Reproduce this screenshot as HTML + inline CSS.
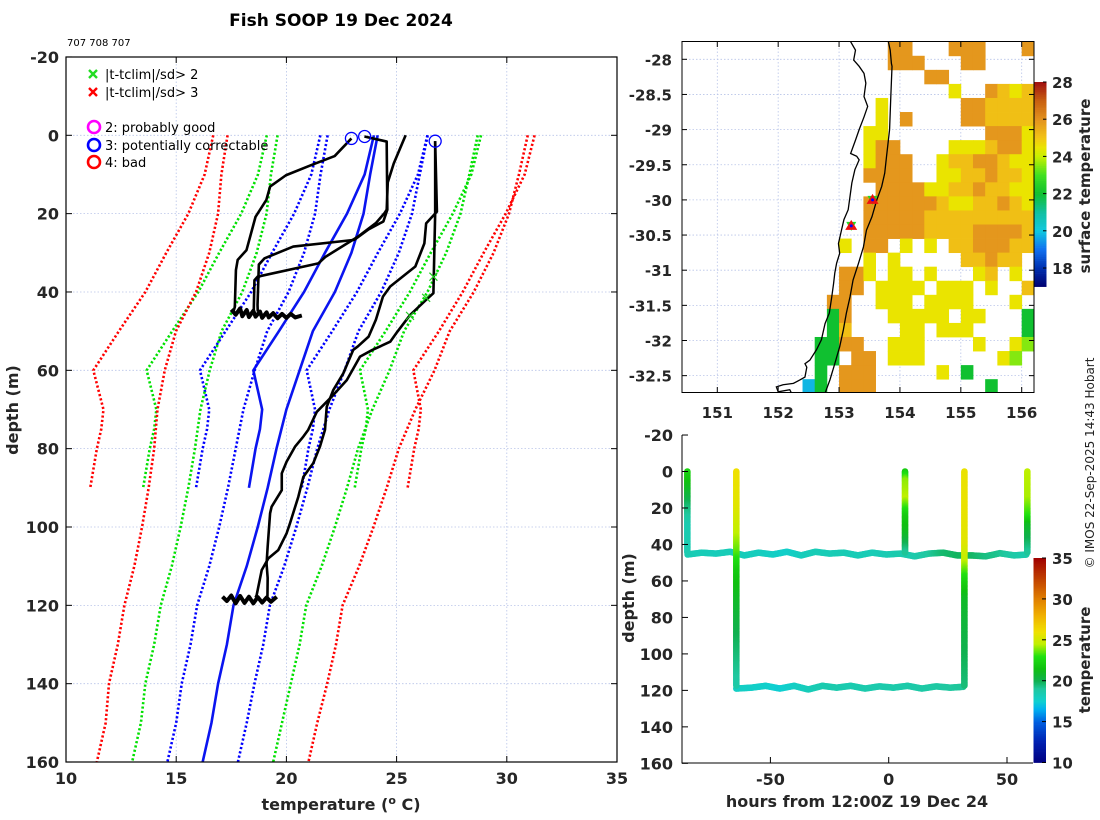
<!DOCTYPE html>
<html><head><meta charset="utf-8"><title>Fish SOOP 19 Dec 2024</title>
<style>
html,body{margin:0;padding:0;background:#fff;}
svg{display:block;font-family:"DejaVu Sans","Liberation Sans",sans-serif;}
.tk{font-size:16px;font-weight:bold;fill:#262626;}
.tk2{font-size:15px;font-weight:bold;fill:#262626;}
.lg{font-size:13px;fill:#000;}
</style></head>
<body>
<svg id="fig" width="1100" height="820" viewBox="0 0 1100 820" xmlns="http://www.w3.org/2000/svg">
<defs>
<clipPath id="cpMain"><rect x="66" y="57" width="551" height="705"/></clipPath>
<clipPath id="cpMap"><rect x="682" y="41.5" width="352" height="351"/></clipPath>
<clipPath id="cpBot"><rect x="682" y="435" width="351" height="328"/></clipPath>
</defs>
<text x="341" y="26" text-anchor="middle" font-size="17" font-weight="bold" fill="#000">Fish SOOP 19 Dec 2024</text>
<text x="67" y="46" font-size="10" fill="#000">707 708 707</text>
<g id="main"></g>
<g id="map"></g>
<g id="bot"></g>
<text transform="translate(1094,463) rotate(-90)" text-anchor="middle" font-size="12" fill="#222">© IMOS 22-Sep-2025 14:43 Hobart</text>
</svg>
<script>
// ---------- MAIN PROFILE CHART DATA ----------
const tTicks = [10,15,20,25,30,35];
const dTicks = [-20,0,20,40,60,80,100,120,140,160];
const climADepth = [0,10,20,30,40,50,60,70,75,80,90];
const climAMean  = [23.97,23.55,22.75,21.75,20.8,19.66,18.5,18.9,18.8,18.6,18.3];
const climASd    = [2.43,2.42,2.4,2.4,2.4,2.42,2.42,2.4,2.4,2.4,2.4];
const climBDepth = [0,10,20,30,40,50,60,70,80,90,100,110,120,130,140,150,160];
const climBMean  = [24.14,23.8,23.5,22.95,22.2,21.2,20.6,20.0,19.55,19.15,18.7,18.2,17.6,17.3,16.9,16.6,16.2];
const climBSd    = [2.27,2.25,2.2,2.15,2.1,2.07,2.04,1.95,1.85,1.8,1.75,1.7,1.65,1.65,1.65,1.6,1.6];
const prof1T = [22.95,22.19,21.13,19.98,19.26,19.09,18.6,18.19,17.79,17.71,17.66,17.6];
const prof1D = [0.8,5.3,7.6,10.2,13.1,16.5,20.8,29.3,31.8,34.4,43.8,45];
const prof2T = [23.54,24.55,24.58,24.4,23.73,23.08,20.31,19.01,18.75,18.69,18.7];
const prof2D = [0.3,1.6,19,22,24,26.7,28.4,31.4,33,43.3,45];
const prof3T = [25.41,24.87,24.6,24.55,24.46,24.06,23.24,21.78,21.45,18.69,18.55,18.52];
const prof3D = [0,7.2,12,19,19.8,22.4,25.9,31,32.7,36.1,37,44.6];
const prof4T = [26.75,26.83,26.34,26.26,25.85,24.71,24.38,24.06,23.73,23.24,23.03,22.58,22.13,21.83,21.75,21.52,21.22,20.77,20.54,20.16,20.01,19.63,19.18,18.88,18.65,18.6];
const prof4D = [1.5,19.5,22.5,27.6,33.5,38.6,41.2,47.1,51.4,53.9,54.8,60.8,65,69.3,75.2,79.5,83.7,87.2,92.3,99.1,101.6,105.9,108,111,117.4,118];
const prof5T = [26.75,26.75,26.67,26.34,25.61,25.04,24.71,23.9,23.34,22.74,22.06,21.38,20.99,20.77,20.39,20.01,19.79,19.79,19.33,19.26,19.15,19.1,19.15,19.14];
const prof5D = [1.5,20,40.3,42,45.9,50.1,52.7,54.8,56.5,62.5,66.7,70.6,75.2,76.9,79.5,83.3,86.3,90.6,94.8,96.5,105,109.4,113,117.8];
const blob45T = [17.5,17.7,17.9,18.0,18.2,18.3,18.5,18.6,18.8,18.9,19.1,19.2,19.4,19.6,19.8,20.0,20.2,20.4,20.7];
const blob45D = [44.5,45.8,44.2,46.2,44.6,46.4,44.8,46.3,45,46.6,45.2,46.5,45.4,46.7,45.6,46.6,45.6,46.5,46];
const blob118T = [17.1,17.3,17.5,17.7,17.9,18.1,18.3,18.5,18.7,18.9,19.1,19.3,19.56];
const blob118D = [117.8,118.9,117.5,119.5,117.6,119.4,117.8,119.5,117.9,119.3,118,119.1,117.8];
const flagT = [26.67,26.34,25.61];
const flagD = [36.1,41.5,46.1];
const circT = [22.95,23.55,26.75];
const circD = [0.8,0.3,1.5];

// ---------- MAP DATA ----------
const lonTicks = [151,152,153,154,155,156];
const latTicks = [-28,-28.5,-29,-29.5,-30,-30.5,-31,-31.5,-32,-32.5];
const sstLon0 = 150.4, sstLat0 = -27.75, sstStep = 0.2;
const sstCodes = {"2":19.8,"4":22,"5":23.5,"6":24.5,"7":25.1,"8":25.9};
const sstRows = [
"............." + "....88...888...8",
"............." + "....888...88....",
"............." + ".......88.......",
"............." + ".........6..8767",
"............." + "...6......887777",
"............." + "...6.8....887777",
"............." + "..66........8886",
"............." + "..688....6667886",
"............." + "..6888..67788766",
"............." + "..8888..66778776",
"............." + "...8888667787766",
"............." + "..88888876677876",
"............." + "..88888777777777",
"............." + "..88888777788887",
"............." + "6.88.6.6.7788877",
"............." + "..6.6.....77877.",
"............." + "886.66.6...67.6.",
"............." + "88.6666.666.6..7",
"............8" + "8..666.6666...6.",
"............4" + "8...66666.66...4",
"............4" + "7....66.666....4",
"...........44" + "88..666....6..65",
"...........44" + ".88.666......65.",
"...........4." + "888.....6.4.....",
"..........24." + "888.........4..."
];
const coastLon = [153.19,153.27,153.24,153.33,153.41,153.44,153.41,153.47,153.41,153.33,153.27,153.19,153.29,153.33,153.26,153.21,153.18,153.15,153.08,153.04,152.99,153.01,152.96,152.93,152.91,152.88,152.84,152.77,152.71,152.63,152.52,152.44,152.47,152.44,152.36,152.25,152.08,151.97,152.0,152.19,152.22];
const coastLat = [-27.75,-27.87,-28.01,-28.1,-28.2,-28.34,-28.53,-28.67,-28.82,-29.0,-29.15,-29.34,-29.38,-29.43,-29.57,-29.76,-29.95,-30.14,-30.28,-30.43,-30.62,-30.76,-30.9,-31.04,-31.19,-31.38,-31.61,-31.76,-31.99,-32.13,-32.28,-32.33,-32.38,-32.52,-32.56,-32.61,-32.63,-32.66,-32.73,-32.7,-32.75];
const isoLon = [153.81,153.84,153.86,153.87,153.85,153.83,153.78,153.75,153.7,153.62,153.54,153.45,153.4,153.32,153.23,153.18,153.12,153.07,153.01,152.93,152.85,152.77];
const isoLat = [-27.75,-27.87,-28.06,-28.1,-28.53,-29.0,-29.38,-29.62,-29.81,-30.0,-30.24,-30.43,-30.67,-30.9,-31.14,-31.38,-31.61,-31.85,-32.09,-32.33,-32.56,-32.75];
const stnLon = [153.55,153.2];
const stnLat = [-30.0,-30.37];
const sstCbTicks = [18,20,22,24,26,28];
const sstStops = [17,18,19,20,21,22,23,24,24.5,25,26,27,28];
const sstColors = ["#000070","#0030b0","#1070f0","#10c8e0","#10c0a0","#10c030","#40e020","#c8f000","#eae400","#f2c414","#e2921e","#c86010","#a01010"];

// ---------- BOTTOM DEPTH-TIME DATA ----------
const hTicks = [-50,0,50];
const bdTicks = [-20,0,20,40,60,80,100,120,140,160];
const dropHours = [-85.1,-64.4,6.9,32,58.6];
const dropDepths = [[0,10,20,30,45],[0,20,35,45,55,70,90,118],[0,5,15,25,35,45],[0,20,40,50,60,70,90,118],[0,15,25,30,45]];
const dropTemps = [[22.5,21,19.5,18.5,18.5],[26,25.5,24.5,23.5,22,21,20,18.8],[22,24,24.5,22,21,19],[25.8,25.8,25.5,24.5,22.5,21,20.3,19.5],[24.5,24.3,23,21,19]];
const line45Hours = [-85,-79,-73,-67,-61,-55,-49,-43,-37,-31,-25,-19,-13,-7,-1,5,11,17,23,29,35,41,47,53,58.6];
const line45Depth = [45.5,44.5,45,44,46,44.5,45.5,44,46,44,45,44.5,46,44.5,45.5,45,46.5,45,44.5,46,46,46.5,44.8,46,45.5];
const line45Temp  = [18.4,18.3,18.2,18.3,18.2,18.1,17.9,17.7,18.1,18.3,18.3,18.4,18.3,18.3,18.4,18.6,18.6,19.0,19.6,19.8,19.8,19.4,19.2,18.8,18.6];
const line118Hours = [-64.4,-58,-52,-46,-40,-34,-28,-22,-16,-10,-4,2,8,14,20,26,32];
const line118Depth = [119,118.5,117.5,119,117.5,119.5,117.5,118.5,117.5,119,117.8,118.5,117.5,119,117.8,118.5,118];
const line118Temp  = [17.9,17.8,17.7,17.4,17.8,18.2,18.5,18.6,18.5,18.6,18.6,18.7,18.7,18.8,18.9,19.0,19.1];
const tCbTicks = [10,15,20,25,30,35];
const tStops = [10,12.5,15,16.5,17.5,19,20,21.5,23,24.5,26,28,30,32.5,35];
const tColors = ["#000080","#0020b0","#0060e0","#00b0f0","#10d0d0","#20c8a0","#10b050","#10c010","#20e010","#c0f000","#f0e000","#f0b000","#e08000","#c04000","#a00000"];

// ---------- helpers ----------
const NS="http://www.w3.org/2000/svg";
function mk(parent, tag, attrs){const e=document.createElementNS(NS,tag);for(const k in attrs)e.setAttribute(k,attrs[k]);parent.appendChild(e);return e;}
function hex(c){return [parseInt(c.substr(1,2),16),parseInt(c.substr(3,2),16),parseInt(c.substr(5,2),16)];}
function cmap(v,stops,cols){if(v<=stops[0])return cols[0];if(v>=stops[stops.length-1])return cols[cols.length-1];
 for(let i=0;i<stops.length-1;i++){if(v<=stops[i+1]){const f=(v-stops[i])/(stops[i+1]-stops[i]);const a=hex(cols[i]),b=hex(cols[i+1]);
 return "rgb("+a.map((x,j)=>Math.round(x+(b[j]-x)*f)).join(",")+")";}}return cols[cols.length-1];}

// ---------- main chart ----------
const mx=t=>66+(t-10)*22.04, my=d=>135.3+(d)*3.917;
const M=document.getElementById('main');
const mg=mk(M,'g',{'clip-path':'url(#cpMain)'});
tTicks.forEach(t=>{const l=mk(mg,'line',{x1:mx(t),x2:mx(t),y1:57,y2:762,stroke:'#b8c4e8','stroke-width':0.8,'stroke-dasharray':'1.5 2'});
});
dTicks.forEach(d=>{const l=mk(mg,'line',{x1:66,x2:617,y1:my(d),y2:my(d),stroke:'#b8c4e8','stroke-width':0.8,'stroke-dasharray':'1.5 2'});
});
function poly(g,T,D,fx,fy,style){return mk(g,'polyline',Object.assign({points:T.map((t,i)=>fx(t)+','+fy(D[i])).join(' '),fill:'none'},style));}
const envStyles=[[3,'#ff0000'],[2,'#00e000'],[1,'#0000ff']];
[[climADepth,climAMean,climASd],[climBDepth,climBMean,climBSd]].forEach(([D,Mn,Sd],pi)=>{
 envStyles.forEach(([k,col])=>{[-1,1].forEach(s=>{
  const p=poly(mg,Mn.map((m,i)=>m+s*k*Sd[i]),D,mx,my,{stroke:col,'stroke-width':2.6,'stroke-dasharray':'2.2 2.2'});
  });});
 const p=poly(mg,Mn,D,mx,my,{stroke:'#0a14f0','stroke-width':2.6});
 
});
[[prof1T,prof1D],[prof2T,prof2D],[prof3T,prof3D],[prof4T,prof4D],[prof5T,prof5D]].forEach(([T,D])=>{
 const p=poly(mg,T,D,mx,my,{stroke:'#000','stroke-width':2.6,'stroke-linejoin':'round'});
 });
[[blob45T,blob45D],[blob118T,blob118D]].forEach(([T,D])=>{
 const p=poly(mg,T,D,mx,my,{stroke:'#000','stroke-width':4,'stroke-linejoin':'round'});
 });
flagT.forEach((t,i)=>{const x=mx(t),y=my(flagD[i]);
 const p=mk(mg,'path',{d:`M${x-4},${y-4}L${x+4},${y+4}M${x-4},${y+4}L${x+4},${y-4}`,stroke:'#22cc22','stroke-width':1.2});
 });
circT.forEach((t,i)=>{const c=mk(mg,'circle',{cx:mx(t),cy:my(circD[i]),r:6,fill:'none',stroke:'#0000ff','stroke-width':1.3});
 });
const box=mk(M,'rect',{x:66,y:57,width:551,height:705,fill:'none',stroke:'#000','stroke-width':1.2});

tTicks.forEach(t=>{mk(M,'line',{x1:mx(t),x2:mx(t),y1:762,y2:756,stroke:'#000'});mk(M,'line',{x1:mx(t),x2:mx(t),y1:57,y2:63,stroke:'#000'});
 const tx=mk(M,'text',{x:mx(t),y:784,'text-anchor':'middle',class:'tk'});tx.textContent=t;
 });
dTicks.forEach(d=>{mk(M,'line',{x1:66,x2:72,y1:my(d),y2:my(d),stroke:'#000'});mk(M,'line',{x1:611,x2:617,y1:my(d),y2:my(d),stroke:'#000'});
 const tx=mk(M,'text',{x:59,y:my(d)+6,'text-anchor':'end',class:'tk'});tx.textContent=d;
 });
const xt=mk(M,'text',{x:341,y:810,'text-anchor':'middle',class:'tk'});
xt.innerHTML='temperature (<tspan dy="-6" font-size="11">o</tspan><tspan dy="6"> C)</tspan>';

const yt=mk(M,'text',{transform:'translate(18,410) rotate(-90)','text-anchor':'middle',class:'tk'});yt.textContent='depth (m)';

const legX=[['#22dd22','|t-tclim|/sd> 2',74],['#ff0000','|t-tclim|/sd> 3',92]];
legX.forEach(([c,s,y])=>{const g=mk(M,'g',{});
 mk(g,'path',{d:`M89,${y-4}L97,${y+4}M89,${y+4}L97,${y-4}`,stroke:c,'stroke-width':2.4});
 const t=mk(g,'text',{x:105,y:y+5,class:'lg'});t.textContent=s;});
const legC=[['#ff00ff','2: probably good',127],['#0000ff','3: potentially correctable',145],['#ff0000','4: bad',162]];
legC.forEach(([c,s,y])=>{const g=mk(M,'g',{});
 mk(g,'circle',{cx:94,cy:y,r:6,fill:'none',stroke:c,'stroke-width':2.6});
 const t=mk(g,'text',{x:105,y:y+5,class:'lg'});t.textContent=s;});

// ---------- map ----------
const lx=l=>717.3+(l-151)*60.88, ly=la=>59.3+(-28-la)*70.3;
const MP=document.getElementById('map');
const mpg=mk(MP,'g',{'clip-path':'url(#cpMap)'});
lonTicks.forEach(l=>{const e=mk(mpg,'line',{x1:lx(l),x2:lx(l),y1:41,y2:393,stroke:'#b8c4e8','stroke-width':0.8,'stroke-dasharray':'1.5 2'});
 });
latTicks.forEach(l=>{const e=mk(mpg,'line',{x1:682,x2:1034,y1:ly(l),y2:ly(l),stroke:'#b8c4e8','stroke-width':0.8,'stroke-dasharray':'1.5 2'});
 });
sstRows.forEach((row,r)=>{for(let c=0;c<row.length;c++){const ch=row[c];if(!(ch in sstCodes))continue;
 const lo=sstLon0+c*sstStep, la=sstLat0-r*sstStep;
 const x0=lx(lo),x1=lx(lo+sstStep),y0=ly(la),y1=ly(la-sstStep);
 const e=mk(mpg,'rect',{x:x0,y:y0,width:x1-x0+0.4,height:y1-y0+0.4,fill:cmap(sstCodes[ch],sstStops,sstColors)});
 }});
const cl=poly(mpg,coastLon,coastLat,lx,ly,{stroke:'#000','stroke-width':1.3});

const iso=poly(mpg,isoLon,isoLat,lx,ly,{stroke:'#000','stroke-width':1.3});

stnLon.forEach((l,i)=>{const x=lx(l),y=ly(stnLat[i]);const g=mk(mpg,'g',{});
 
 mk(g,'path',{d:`M${x-5},${y-4}L${x+5},${y-4}L${x},${y+5}Z`,fill:'#22dd22'});
 mk(g,'path',{d:`M${x},${y-6}L${x+6},${y+4}L${x-6},${y+4}Z`,fill:'#ee1111'});
 mk(g,'circle',{cx:x,cy:y,r:1.5,fill:'#0000ff'});});
const mbox=mk(MP,'rect',{x:682,y:41.5,width:352,height:351,fill:'none',stroke:'#000','stroke-width':1});

lonTicks.forEach(l=>{mk(MP,'line',{x1:lx(l),x2:lx(l),y1:392.5,y2:387,stroke:'#000'});mk(MP,'line',{x1:lx(l),x2:lx(l),y1:41.5,y2:47,stroke:'#000'});
 const t=mk(MP,'text',{x:lx(l),y:418,'text-anchor':'middle',class:'tk2'});t.textContent=l;
 });
latTicks.forEach(l=>{mk(MP,'line',{x1:682,x2:687,y1:ly(l),y2:ly(l),stroke:'#000'});mk(MP,'line',{x1:1029,x2:1034,y1:ly(l),y2:ly(l),stroke:'#000'});
 const t=mk(MP,'text',{x:672,y:ly(l)+6,'text-anchor':'end',class:'tk2'});t.textContent=l;
 });
const scy=v=>82+(28-v)*18.6;
for(let v=17;v<28;v+=0.1){const e=mk(MP,'rect',{x:1034.5,y:scy(v+0.1),width:12,height:2.2,fill:cmap(v+0.05,sstStops,sstColors)});
 }
sstCbTicks.forEach(v=>{mk(MP,'line',{x1:1043,x2:1046.5,y1:scy(v),y2:scy(v),stroke:'#000'});
 const t=mk(MP,'text',{x:1052,y:scy(v)+6,class:'tk2'});t.textContent=v;
 });
const st=mk(MP,'text',{transform:'translate(1090,186) rotate(-90)','text-anchor':'middle',class:'tk2'});st.textContent='surface temperature';


// ---------- bottom depth-time ----------
const hx=h=>888.7+h*2.366, hy=d=>471.5+d*1.824;
const B=document.getElementById('bot');
const bg=mk(B,'g',{'clip-path':'url(#cpBot)'});
function dots(H,D,T,name){
 for(let i=0;i<H.length-1;i++){const x0=hx(H[i]),y0=hy(D[i]),x1=hx(H[i+1]),y1=hy(D[i+1]);
  const n=Math.max(1,Math.ceil(Math.hypot(x1-x0,y1-y0)/1.2));
  for(let k=0;k<n;k++){const f=k/n;const c=mk(bg,'circle',{cx:x0+(x1-x0)*f,cy:y0+(y1-y0)*f,r:3.3,fill:cmap(T[i]+(T[i+1]-T[i])*f,tStops,tColors)});
   }}}
dots(line45Hours,line45Depth,line45Temp,'track-point-45m');
dots(line118Hours,line118Depth,line118Temp,'track-point-118m');
dropHours.forEach((h,i)=>dots(dropDepths[i].map(()=>h),dropDepths[i],dropTemps[i],'drop-point'));
const bbox=mk(B,'path',{d:'M682,435L682,763L1033,763',fill:'none',stroke:'#000','stroke-width':1});

hTicks.forEach(h=>{mk(B,'line',{x1:hx(h),x2:hx(h),y1:763,y2:757,stroke:'#000'});
 const t=mk(B,'text',{x:hx(h),y:785,'text-anchor':'middle',class:'tk'});t.textContent=h;
 });
bdTicks.forEach(d=>{mk(B,'line',{x1:682,x2:688,y1:hy(d),y2:hy(d),stroke:'#000'});
 const t=mk(B,'text',{x:673,y:hy(d)+6,'text-anchor':'end',class:'tk'});t.textContent=d;
 });
const bx=mk(B,'text',{x:857,y:807,'text-anchor':'middle',class:'tk'});bx.textContent='hours from 12:00Z 19 Dec 24';

const by=mk(B,'text',{transform:'translate(634,598) rotate(-90)','text-anchor':'middle',class:'tk'});by.textContent='depth (m)';

const tcy=v=>558+(35-v)*8.18;
for(let v=10;v<35;v+=0.1){const e=mk(B,'rect',{x:1033.5,y:tcy(v+0.1),width:12.5,height:1.2,fill:cmap(v+0.05,tStops,tColors)});
 }
tCbTicks.forEach(v=>{mk(B,'line',{x1:1042,x2:1046,y1:tcy(v),y2:tcy(v),stroke:'#000'});
 const t=mk(B,'text',{x:1052,y:tcy(v)+6,class:'tk2'});t.textContent=v;
 });
const tt=mk(B,'text',{transform:'translate(1090,660) rotate(-90)','text-anchor':'middle',class:'tk2'});tt.textContent='temperature';

</script>
</body></html>
